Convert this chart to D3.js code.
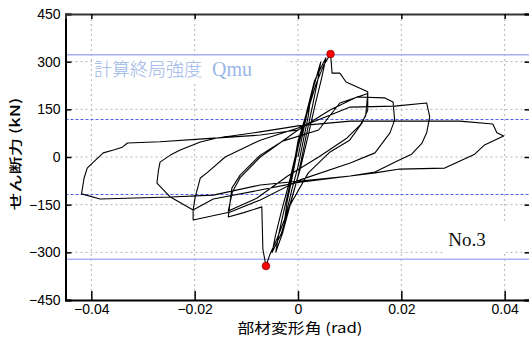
<!DOCTYPE html>
<html>
<head>
<meta charset="utf-8">
<script src="https://cdn.jsdelivr.net/npm/d3@7"></script>
<style>
  body { margin: 0; background: #fff; }
  svg { display: block; }
</style>
</head>
<body>
<svg id="chart" width="529" height="338"></svg>
<script>
// tick values
var xTicks = [-0.04, -0.02, 0, 0.02, 0.04];
var yTicks = [-450, -300, -150, 0, 150, 300, 450];

// reference levels (kN)
var qmu = 322;
var dashLevel = 118;

// peak points [rad, kN]
var peaks = [[0.0063, 324], [-0.0062, -343]];

// hysteresis loops [rad, kN], in loading order
var cycle1 = [[0,0],[0.0012,95],[0.0025,195],[0.002,130],[0.001,50],[0,-30],[-0.0013,-110],[-0.0026,-200],[-0.0021,-140],[-0.001,-55],[0,30]];
var cycle2 = [[0.0015,120],[0.003,220],[0.0044,299],[0.0038,240],[0.0028,160],[0.0015,60],[0,-60],[-0.0015,-150],[-0.003,-240],[-0.0043,-299],[-0.0037,-240],[-0.0026,-160],[-0.0012,-60],[0,50]];
var cycle3 = [[0.0015,130],[0.0032,240],[0.0054,312],[0.0046,250],[0.0034,170],[0.002,70],[0.0004,-40],[-0.0014,-140],[-0.0032,-240],[-0.005,-300],[-0.0044,-250],[-0.0032,-170],[-0.0017,-80],[0,40]];
var cycle4 = [[0.0018,140],[0.0035,230],[0.005,290],[0.0063,324],[0.0066,264],[0.0081,264],[0.0093,236],[0.0135,205],[0.0135,148],[0.0124,107],[0.0100,53],[0.0062,16],[0.002,-50],[-0.0015,-150],[-0.004,-255],[-0.0054,-305],[-0.0062,-343],[-0.0068,-290],[-0.007,-157],[-0.0105,-175],[-0.0135,-189]];
var cycle5 = [[-0.0128,-98],[-0.0112,-57],[-0.0073,6],[-0.003,50],[0.004,85],[0.0081,170],[0.0135,200],[0.0131,130],[0.012,100],[0.0095,60],[0.004,0],[-0.002,-60],[-0.008,-130],[-0.0135,-170]];
var cycle6 = [[-0.0127,-110],[-0.0112,-65],[-0.0073,0],[0,85],[0.0062,148],[0.0114,189],[0.0168,186],[0.0184,173],[0.0187,116],[0.0178,76],[0.0149,13],[0.0101,-19],[0.0004,-72],[-0.0073,-135],[-0.0131,-173],[-0.0203,-198],[-0.0203,-167],[-0.0199,-126],[-0.0189,-66],[-0.0174,-47],[-0.0141,0],[-0.0073,53],[0,91]];
var cycle7 = [[0.0101,157],[0.0187,160],[0.0249,170],[0.0255,126],[0.0249,76],[0.024,44],[0.022,9],[0.0197,-9],[0.0149,-47],[0.0101,-60],[0.0004,-79],[-0.0073,-104],[-0.0164,-132],[-0.0203,-167],[-0.0247,-126],[-0.0273,-82],[-0.027,-41],[-0.0267,-16],[-0.0247,6],[-0.0228,22],[-0.0189,47],[-0.0157,60],[-0.0073,79],[0,98]];
var cycle8 = [[0.0101,113],[0.0313,113],[0.0377,104],[0.0385,76],[0.0398,66],[0.0361,38],[0.0342,9],[0.0284,-35],[0.0197,-38],[0.0149,-50],[0.0101,-60],[-0.0073,-88],[-0.0164,-120],[-0.0247,-126],[-0.0383,-132],[-0.0419,-116],[-0.0414,-66],[-0.0408,-35],[-0.0396,-16],[-0.0377,13],[-0.0357,22],[-0.034,31],[-0.033,44],[-0.0267,48],[-0.0184,57],[-0.0073,69],[0,85]];

var svg = d3.select("#chart");
var pLeft = 65.5, pRight = 530.5, pTop = 14, pBottom = 300;

var x = d3.scaleLinear().domain([-0.045, 0.045]).range([pLeft, pRight]);
var y = d3.scaleLinear().domain([-450, 450]).range([pBottom, pTop]);

svg.append("clipPath").attr("id", "plotclip")
  .append("rect")
  .attr("x", pLeft).attr("y", pTop)
  .attr("width", pRight - pLeft).attr("height", pBottom - pTop);

var grid = svg.append("g").attr("clip-path", "url(#plotclip)");

// dotted grid
grid.selectAll(".gx")
  .data(xTicks)
  .enter().append("line")
  .attr("x1", d => x(d)).attr("x2", d => x(d))
  .attr("y1", pTop).attr("y2", pBottom)
  .attr("stroke", "#b4b4b4").attr("stroke-width", 1)
  .attr("stroke-dasharray", "2,3");

grid.selectAll(".gy")
  .data(yTicks.slice(1, -1))
  .enter().append("line")
  .attr("x1", pLeft).attr("x2", pRight)
  .attr("y1", d => y(d)).attr("y2", d => y(d))
  .attr("stroke", "#b4b4b4").attr("stroke-width", 1)
  .attr("stroke-dasharray", "2,3");

// white boxes behind the labels
grid.append("rect")
  .attr("x", 92).attr("y", 57).attr("width", 195).attr("height", 27)
  .attr("fill", "#fff");
grid.append("rect")
  .attr("x", 444).attr("y", 223).attr("width", 62).attr("height", 31)
  .attr("fill", "#fff");

// reference lines
grid.selectAll(".qmu")
  .data([qmu, -qmu])
  .enter().append("line")
  .attr("x1", pLeft).attr("x2", pRight)
  .attr("y1", d => y(d)).attr("y2", d => y(d))
  .attr("stroke", "#a9b1f2").attr("stroke-width", 1.6);

grid.selectAll(".lvl")
  .data([dashLevel, -dashLevel])
  .enter().append("line")
  .attr("x1", pLeft).attr("x2", pRight)
  .attr("y1", d => y(d)).attr("y2", d => y(d))
  .attr("stroke", "#4a5cf0").attr("stroke-width", 1)
  .attr("stroke-dasharray", "3,2");

// hysteresis curve
var path = [].concat(cycle1, cycle2, cycle3, cycle4, cycle5, cycle6, cycle7, cycle8);
var line = d3.line().x(d => x(d[0])).y(d => y(d[1]));

grid.append("path")
  .datum(path)
  .attr("d", line)
  .attr("fill", "none")
  .attr("stroke", "#000")
  .attr("stroke-width", 1.1)
  .attr("stroke-linejoin", "round");

grid.selectAll(".peak")
  .data(peaks)
  .enter().append("circle")
  .attr("cx", d => x(d[0])).attr("cy", d => y(d[1]))
  .attr("r", 3.8)
  .attr("fill", "#f00").attr("stroke", "#800").attr("stroke-width", 0.8);

// labels inside plot
var qLabel = svg.append("text")
  .attr("x", 94).attr("y", 76)
  .attr("fill", "#9ab6e8")
  .style("font-size", "18px");
qLabel.append("tspan").style("font-family", "'Noto Sans CJK JP'").style("font-weight", 300).text("計算終局強度");
qLabel.append("tspan").attr("dx", 10).style("font-family", "'Liberation Serif'").style("font-size", "20px").text("Qmu");

svg.append("text")
  .attr("x", 467).attr("y", 246)
  .attr("text-anchor", "middle")
  .style("font-family", "'Liberation Serif'")
  .style("font-size", "19px")
  .attr("fill", "#111")
  .text("No.3");

// axes
var xAxis = svg.append("g")
  .attr("transform", `translate(0,${pBottom})`)
  .call(d3.axisBottom(x).tickValues(xTicks).tickSize(-9).tickPadding(4).tickFormat(d => d === 0 ? "0" : d3.format(".2f")(d)));

var yAxis = svg.append("g")
  .attr("transform", `translate(${pLeft},0)`)
  .call(d3.axisLeft(y).tickValues(yTicks).tickSize(-6).tickPadding(5).tickFormat(d3.format("")));

var topAxis = svg.append("g")
  .attr("transform", `translate(0,${pTop})`)
  .call(d3.axisTop(x).tickValues(xTicks).tickSize(-5).tickFormat(""));

var rightAxis = svg.append("g")
  .attr("transform", `translate(${pRight},0)`)
  .call(d3.axisRight(y).tickValues(yTicks).tickSize(-6).tickFormat(""));

[xAxis, yAxis, topAxis, rightAxis].forEach(function (g) {
  g.select(".domain").attr("stroke", "#000").attr("stroke-width", 2);
  g.selectAll(".tick line").attr("stroke", "#000").attr("stroke-width", 1.5);
  g.selectAll(".tick text")
    .attr("fill", "#000")
    .style("font-family", "'Liberation Sans', Arial, sans-serif")
    .style("font-size", "14px");
});
topAxis.select(".domain").attr("stroke", "#333");

// axis titles (stretched like the original)
svg.append("text")
  .attr("transform", "translate(20,154) rotate(-90)")
  .attr("text-anchor", "middle")
  .attr("textLength", 113)
  .attr("lengthAdjust", "spacingAndGlyphs")
  .style("font-family", "'Noto Sans CJK JP'")
  .style("font-size", "13px")
  .style("font-weight", 500)
  .attr("fill", "#000")
  .text("せん断力 (kN)");

svg.append("text")
  .attr("x", 300).attr("y", 333)
  .attr("text-anchor", "middle")
  .attr("textLength", 125)
  .attr("lengthAdjust", "spacingAndGlyphs")
  .style("font-family", "'Noto Sans CJK JP'")
  .style("font-size", "14px")
  .attr("fill", "#000")
  .text("部材変形角 (rad)");
</script>
</body>
</html>
